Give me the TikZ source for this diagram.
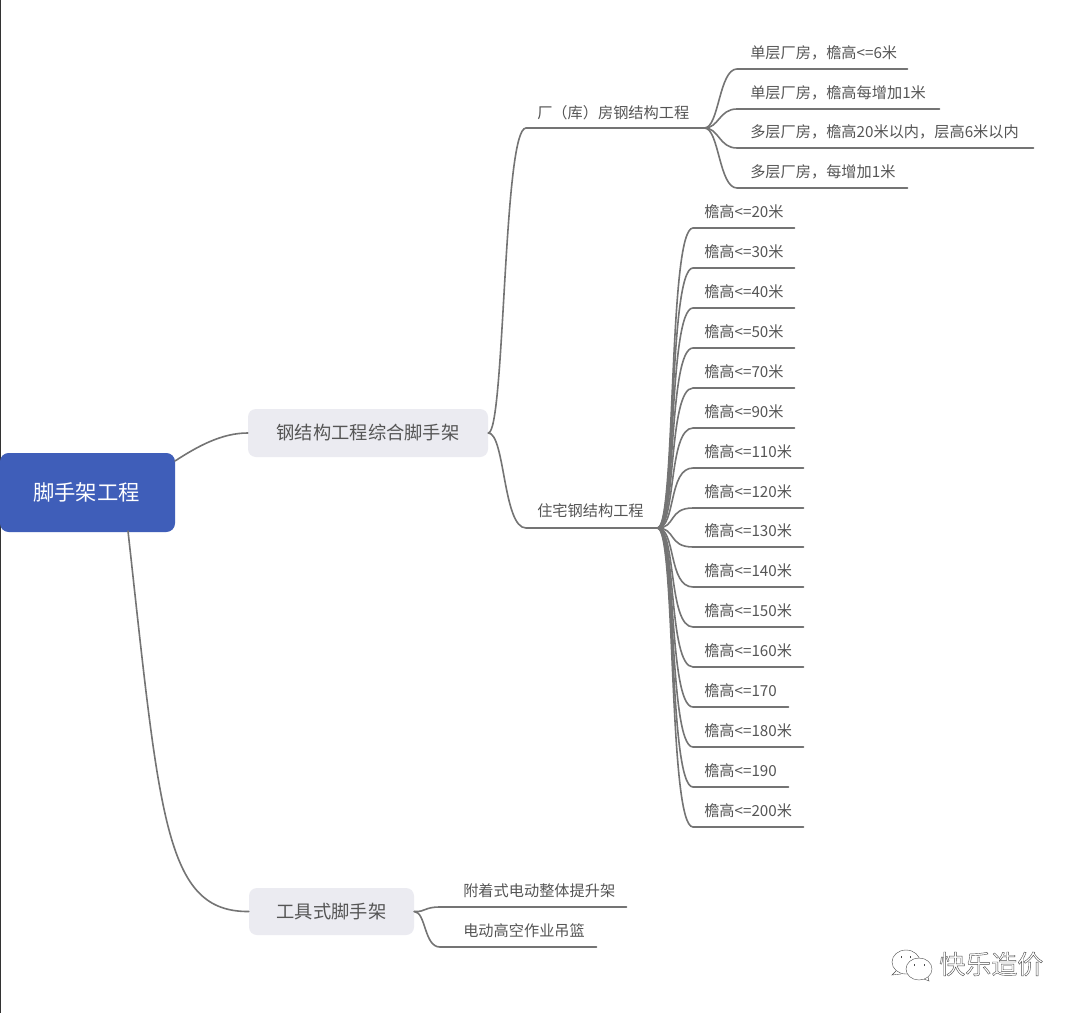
\documentclass[tikz,border=0pt]{standalone}
\usepackage{fontspec}
\setmainfont{Noto Sans CJK SC}
\definecolor{linec}{HTML}{747474}
\definecolor{textc}{HTML}{555555}
\definecolor{rootc}{HTML}{3F5EB9}
\definecolor{subc}{HTML}{EBEBF1}
\newlength{\pxu}\setlength{\pxu}{0.75pt}
\newcommand{\lbl}[3]{\makebox[#1\pxu][l]{\hspace*{#2\pxu}#3}}
\tikzset{
  link/.style={draw=linec,line width=1.2pt,line cap=round},
  leafnode/.style={anchor=south west,inner sep=0pt,minimum height=#1*0.75pt,text height=9pt,text depth=2pt,
     font=\fontsize{11.4pt}{13pt}\selectfont,text=textc},
  leafnode/.default=30,
  subbox/.style={fill=subc,rounded corners=6pt,inner sep=0pt,text=textc,font=\fontsize{13.7pt}{16pt}\selectfont},
  rootbox/.style={fill=rootc,rounded corners=6.5pt,inner sep=0pt,text=white,font=\fontsize{16pt}{19pt}\selectfont},
  wmline/.style={draw=black!70,line width=0.3pt,fill=none}
}
\begin{document}
\begin{tikzpicture}[x=0.75pt,y=-0.75pt]
\useasboundingbox[fill=white] (0,0) rectangle (1080,1013);
\draw[black!80,line width=1.1pt] (0.7,0) -- (0.7,1013);

% main nodes
\node[rootbox,minimum width=131.25pt,minimum height=59.25pt] (root) at (87.5,492.5) {\hspace*{-1.5pt}脚手架工程};
\node[subbox,minimum width=180pt,minimum height=36pt] (steel) at (368,433) {钢结构工程综合脚手架};
\node[subbox,minimum width=123.75pt,minimum height=35.25pt] (tool) at (331.5,911.5) {工具式脚手架};
\coordinate (rootA) at (175,461);
\coordinate (rootB) at (128,531);

\draw[link] (rootA) .. controls (198,446) and (222,433) .. (steel.west);
\draw[link] (rootB) .. controls (160,820) and (165,912) .. (tool.west);

% second level
\node[leafnode=28] (factory) at (526,128) {\lbl{178}{11}{厂（库）房钢结构工程}};
\node[leafnode=32] (house) at (526,528) {\lbl{131}{11}{住宅钢结构工程}};
\draw[link] (steel.east) .. controls (505,433) and (503,128) .. (factory.south west) -- (factory.south east);
\draw[link] (steel.east) .. controls (505,433) and (503,528) .. (house.south west) -- (house.south east);

% factory leaves
\foreach \n/\y/\e/\t in {a1/69/907/单层厂房，檐高<=6米,a2/109/939/单层厂房，檐高每增加1米,a3/148/1033/多层厂房，檐高20米以内，层高6米以内,a4/188/907/多层厂房，每增加1米}{
  \pgfmathsetmacro{\w}{\e-737}
  \node[leafnode] (\n) at (737,\y) {\lbl{\w}{13}{\t}};
  \draw[link] (factory.south east) .. controls (719,128) and (719,\y) .. (\n.south west) -- (\n.south east);
}

% house leaves
\foreach \n/\y/\e/\t in {b1/228/794/檐高<=20米,b2/268/794/檐高<=30米,b3/308/794/檐高<=40米,b4/348/794/檐高<=50米,b5/388/794/檐高<=70米,b6/428/794/檐高<=90米,b7/468/803/檐高<=110米,b8/508/803/檐高<=120米,b9/547/803/檐高<=130米,b10/587/803/檐高<=140米,b11/627/803/檐高<=150米,b12/667/803/檐高<=160米,b13/707/788/檐高<=170,b14/747/803/檐高<=180米,b15/787/788/檐高<=190,b16/827/803/檐高<=200米}{
  \pgfmathsetmacro{\w}{\e-693}
  \node[leafnode] (\n) at (693,\y) {\lbl{\w}{11}{\t}};
  \draw[link] (house.south east) .. controls (676,528) and (668,\y) .. (\n.south west) -- (\n.south east);
}

% tool leaves
\foreach \n/\y/\e/\t in {c1/907/626/附着式电动整体提升架,c2/947/596/电动高空作业吊篮}{
  \pgfmathsetmacro{\w}{\e-440}
  \node[leafnode] (\n) at (440,\y) {\lbl{\w}{23}{\t}};
  \draw[link] (tool.east) .. controls (426,912) and (424,\y) .. (\n.south west) -- (\n.south east);
}

% watermark
\node[inner sep=0pt,anchor=west,text=black!70,font=\fontsize{19.5pt}{22pt}\selectfont] (wm) at (939,964)
  {\special{pdf:code 1 Tr 0.3 w}快乐造价\special{pdf:code 0 Tr}};
\draw[wmline] (906,962) ellipse (14 and 12);
\draw[wmline,fill=white] (919,969) ellipse (13 and 11);
\draw[wmline] (896,971) -- (892,975) -- (901,974);
\draw[wmline] (924,979) -- (929,981) -- (928,977);
\draw[wmline] (901,958) -- (901,956) (910,958) -- (910,956);
\draw[wmline] (914,966) -- (914,964) (924,966) -- (924,964);
\end{tikzpicture}
\end{document}
